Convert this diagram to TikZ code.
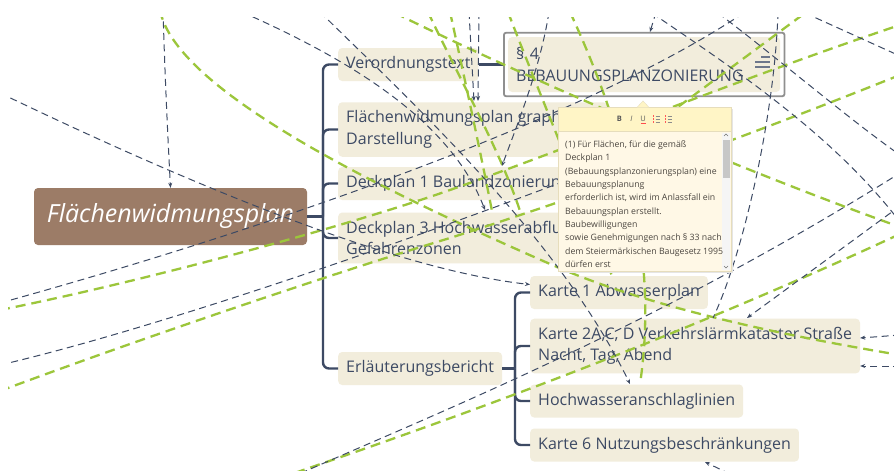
\documentclass[tikz,border=0pt]{standalone}
\usepackage{fontspec}
\setmainfont{Open Sans}
\usetikzlibrary{arrows.meta,positioning}

\definecolor{navy}{HTML}{3D4A64}
\definecolor{topicfill}{HTML}{F2EDDC}
\definecolor{rootfill}{HTML}{9C7C67}
\definecolor{relgreen}{HTML}{9CC63B}
\definecolor{framegrey}{HTML}{8F8F8F}
\definecolor{pophead}{HTML}{FFF5C6}
\definecolor{popbody}{HTML}{FFF8E6}
\definecolor{popedge}{HTML}{E6DDBC}
\definecolor{poptext}{HTML}{4B4640}

\tikzset{
  topic/.style={fill=topicfill, text=navy, rounded corners=4pt, inner xsep=8pt, inner ysep=8.5pt,
    minimum height=33pt, align=left, anchor=west, font=\fontsize{16}{21.5}\selectfont},
  rootbox/.style={fill=rootfill, text=white, rounded corners=4pt, minimum width=273pt,
    minimum height=57pt, font=\fontsize{25}{29}\selectfont\itshape},
  selframe/.style={draw=framegrey, line width=1.8pt, rounded corners=2pt},
  branch/.style={draw=navy, line width=2.4pt, rounded corners=6pt},
  rel/.style={draw=navy, line width=1pt, dash pattern=on 7pt off 4.5pt},
  relg/.style={draw=relgreen, line width=2.3pt, dash pattern=on 10pt off 6pt},
  poptxt/.style={text=poptext, align=left, inner sep=0pt, anchor=north west,
    font=\fontsize{8.75}{13.33}\selectfont},
  icon/.style={text=black!65, inner sep=0pt, font=\fontsize{7.5}{8}\selectfont}
}

\begin{document}
\begin{tikzpicture}[x=1pt, y=-1pt, >={Stealth[length=5pt,width=4pt]}]
	\path[use as bounding box, fill=white] (0,0) rectangle (894,471);

	% topics
	\node(root)[rootbox] at (170.5,216.5) {Flächenwidmungsplan};
	\node(verord)[topic] at (338,64.5) {Verordnungstext};
	\node(fwgraph)[topic] at (338,129.5) {Flächenwidmungsplan graphische\\Darstellung};
	\node(deck1)[topic] at (338,183.5) {Deckplan 1 Baulandzonierung};
	\node(deck3)[topic] at (338,238) {Deckplan 3 Hochwasserabfluss\\Gefahrenzonen};
	\node(erl)[topic] at (338,368.5) {Erläuterungsbericht};

	\node(karte1)[topic] at (530,292.5) {Karte 1 Abwasserplan};
	\node(karte2)[topic] at (530,346) {Karte 2A,C, D Verkehrslärmkataster Straße\\Nacht, Tag, Abend};
	\node(hochw)[topic] at (530,401) {Hochwasseranschlaglinien};
	\node(karte6)[topic] at (530,445) {Karte 6 Nutzungsbeschränkungen};

	% selected topic
	\node(par4)[topic, text width=256pt, minimum height=55pt] at (508,64.5) {\S\ 4\\BEBAUUNGSPLANZONIERUNG};
	\draw[selframe] ([shift={(-4pt,4pt)}]par4.north west) rectangle ([shift={(4pt,-4pt)}]par4.south east);
	\draw[navy!75, line width=1.2pt] (761,57) -- (770,57) (755,62) -- (770,62) (755,67) -- (770,67);

	% branches
	\coordinate (j1) at (323,216.5);
	\coordinate (j2) at (515,368.5);
	\draw[branch] (root.east) -- (j1);
	\foreach \c in {verord,fwgraph,deck1,deck3,erl}
		\draw[branch] (j1) |- (\c.west);
	\draw[branch] (verord.east) -- ([xshift=-4pt]par4.west);
	\draw[branch] (erl.east) -- (j2);
	\foreach \c in {karte1,karte2,hochw,karte6}
		\draw[branch] (j2) |- (\c.west);

	% relationship lines
	\coordinate (g1s) at (160,10);   \coordinate (g1e) at (900,355);
	\coordinate (gas) at (280,478);  \coordinate (gae) at (900,234);
	\coordinate (gbs) at (0,310);    \coordinate (gbe) at (900,25);
	\coordinate (gcs) at (395,13);   \coordinate (gce) at (900,227);
	\coordinate (gds) at (0,391);    \coordinate (gde) at (900,75);
	\coordinate (ges) at (640,135);  \coordinate (gee) at (805,13);
	\coordinate (gs1s) at (428,12);  \coordinate (gs1e) at (520,211);
	\coordinate (gs2s) at (450,12);  \coordinate (gs2e) at (492,211);
	\coordinate (gc2s) at (508,12);  \coordinate (gc2e) at (612,276);
	\coordinate (gvs) at (570,12);   \coordinate (gve) at (640,384);

	\coordinate (n1s) at (163,10);
	\coordinate (n2s) at (0,93);
	\coordinate (n3s) at (0,303);    \coordinate (n3e) at (745,12);
	\coordinate (n4s) at (0,365);    \coordinate (n4e) at (620,160);
	\coordinate (n5s) at (290,478);  \coordinate (n5e) at (900,173);
	\coordinate (nas) at (242,12);   \coordinate (nae) at (485,210);
	\coordinate (nbs) at (320,12);   \coordinate (nbe) at (630,384);
	\coordinate (ncs) at (549,12);   \coordinate (nce) at (502,166);
	\coordinate (nv1s) at (469,12);  \coordinate (nv1e) at (474,101);
	\coordinate (nv2s) at (479,12);  \coordinate (nv2e) at (478,101);
	\coordinate (nts) at (656,12);   \coordinate (nte) at (650,32);
	\coordinate (nss) at (778,12);   \coordinate (nse) at (713,318);
	\coordinate (nd1s) at (652,13);  \coordinate (nd1e) at (900,222);
	\coordinate (nd2s) at (718,13);  \coordinate (nd2e) at (900,155);
	\coordinate (nd3s) at (805,13);  \coordinate (nd3e) at (900,56);
	\coordinate (nks) at (900,206);  \coordinate (nke) at (747,318);
	\coordinate (nr1s) at (900,335);
	\coordinate (nr2s) at (900,366);
	\coordinate (nbts) at (730,474); \coordinate (nbte) at (705,462);

	\begin{scope}
		\clip (8,17) rectangle (894,471);
		\draw[relg] (g1s) .. controls (175,90) and (380,190) .. (557,267) .. controls (650,307) and (780,335) .. (g1e);
		\draw[relg] (gas) .. controls (420,430) and (650,350) .. (gae);
		\draw[relg] (gbs) .. controls (150,280) and (350,225) .. (450,190) .. controls (550,155) and (750,75) .. (gbe);
		\draw[relg] (gcs) .. controls (500,65) and (700,155) .. (gce);
		\draw[relg] (gds) .. controls (150,335) and (350,268) .. (450,238) .. controls (600,190) and (750,135) .. (gde);
		\draw[relg] (ges) -- (gee);
		\draw[relg] (gs1s) .. controls (460,80) and (500,150) .. (gs1e);
		\draw[relg] (gs2s) .. controls (465,80) and (480,150) .. (gs2e);
		\draw[relg] (gc2s) .. controls (530,70) and (580,190) .. (gc2e);
		\draw[relg] (gvs) .. controls (620,120) and (660,250) .. (gve);

		\draw[rel,->] (n1s) .. controls (165,80) and (168,140) .. (root.north);
		\draw[rel,->] (n2s) .. controls (150,165) and (380,268) .. ([yshift=8pt]karte1.west);
		\draw[rel] (n3s) .. controls (300,220) and (600,110) .. (n3e);
		\draw[rel] (n4s) .. controls (150,330) and (400,245) .. (n4e);
		\draw[rel] (n5s) .. controls (420,420) and (650,330) .. (n5e);
		\draw[rel,->] (nas) .. controls (350,60) and (450,120) .. (nae);
		\draw[rel,->] (nbs) .. controls (420,110) and (560,240) .. (nbe);
		\draw[rel,->] (ncs) .. controls (540,70) and (515,130) .. (nce);
		\draw[rel,->] (nv1s) -- (nv1e);
		\draw[rel,->] (nv2s) -- (nv2e);
		\draw[rel,->] (nts) -- (nte);
		\draw[rel] (nss) .. controls (775,110) and (745,250) .. (nse);
		\draw[rel] (nd1s) .. controls (720,60) and (830,130) .. (nd1e);
		\draw[rel] (nd2s) .. controls (780,60) and (850,120) .. (nd2e);
		\draw[rel] (nd3s) -- (nd3e);
		\draw[rel,->] (nks) -- (nke);
		\draw[rel,->] (nr1s) -- ([yshift=8pt]karte2.east);
		\draw[rel,->] (nr2s) -- ([yshift=-20pt]karte2.east);
		\draw[rel,->] (nbts) -- (nbte);
	\end{scope}

	% note popup
	\fill[black!10] (559.5,108.5) rectangle (733,273);
	\fill[popbody] (558,107) rectangle (731,271);
	\fill[pophead] (558,107) rectangle (731,131);
	\draw[popedge] (558,107) rectangle (731,271);
	\draw[popedge] (558,131) -- (731,131);
	\filldraw[fill=pophead, draw=popedge] (637,107.4) -- (643,101) -- (649,107.4);
	\node(btnb)[icon, font=\fontsize{7.5}{8}\selectfont\bfseries] at (619.5,119) {B};
	\node(btni)[icon, font=\fontsize{7.5}{8}\selectfont\itshape] at (631.5,119) {I};
	\node(btnu)[icon] at (643,118.5) {U};
	\draw[red!70, line width=0.5pt] (640.5,122.8) -- (645.5,122.8);
	\foreach \y in {116,119,122} {
		\fill[red!65] (652.5,\y-0.7) rectangle (654,\y+0.7);
		\draw[black!45, line width=0.6pt] (655.5,\y) -- (660,\y);
		\fill[red!65] (664.5,\y-0.7) rectangle (666,\y+0.7);
		\draw[black!45, line width=0.6pt] (667.5,\y) -- (672,\y);
	}
	\fill[black!4] (722,133) rectangle (730,270);
	\fill[black!22] (722.5,140) rectangle (729.5,178);
	\draw[black!55, line width=0.5pt] (724,136) -- (726,134) -- (728,136);
	\draw[black!55, line width=0.5pt] (724,266) -- (726,268) -- (728,266);
	\node(note)[poptxt] at (565,140.5) {(1) Für Flächen, für die gemäß\\Deckplan 1\\(Bebauungsplanzonierungsplan) eine\\Bebauungsplanung\\erforderlich ist, wird im Anlassfall ein\\Bebauungsplan erstellt.\\Baubewilligungen\\sowie Genehmigungen nach § 33 nach\\dem Steiermärkischen Baugesetz 1995\\dürfen erst};
\end{tikzpicture}
\end{document}
